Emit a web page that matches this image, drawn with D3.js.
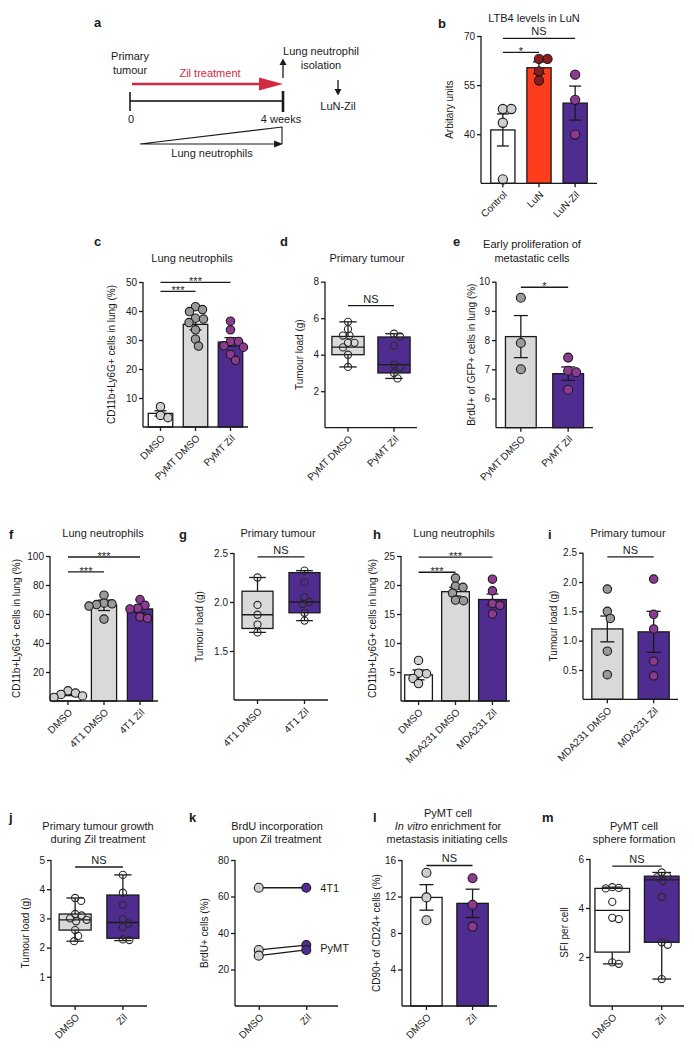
<!DOCTYPE html>
<html><head><meta charset="utf-8">
<script src="https://cdn.jsdelivr.net/npm/d3@7"></script>
<style>body{margin:0;background:#fff;}</style>
</head><body>
<script>
// ---------------- DATA ----------------
// b
const bCats = ["Control","LuN","LuN-Zil"];
const bMeans = [41.3, 60.3, 49.5];
const bSem = [4.9, 1.8, 5.2];
const bPoints = [[47.7,47.7,43.5,26.2],[63.0,63.0,59.2,56.4],[58.2,50.5,39.9]];
const bTicks = [40,55,70];
const bSig = [[0,2,69.3,"NS"],[0,1,65,"*"]];
// c
const cCats = ["DMSO","PyMT DMSO","PyMT Zil"];
const cMeans = [4.7, 35.4, 29.3];
const cSem = [0.9, 1.9, 1.5];
const cPoints = [[7.0,4.0,3.2],[41.5,40.5,39.8,37.5,37.2,36.0,33.5,30.3,27.9],[36.5,33.5,29.5,29.5,28,27.5,25,23]];
const cTicks = [10,20,30,40,50];
const cSig = [[0,2,49.9,"***"],[0,1,46.8,"***"]];
// d
const dCats = ["PyMT DMSO","PyMT Zil"];
const dBox = [[3.33,4.0,4.42,5.0,5.8],[2.7,3.0,3.46,4.97,5.15]];
const dPoints = [[5.8,5.4,5.05,5.05,4.65,4.65,4.4,4.0,3.33],[5.15,5.0,4.5,3.46,3.3,3.0,2.7]];
const dTicks = [2,4,6,8];
const dSig = [[0,1,6.69,"NS"]];
// e
const eCats = ["PyMT DMSO","PyMT Zil"];
const eMeans = [8.12, 6.85];
const eSem = [0.72, 0.23];
const ePoints = [[9.45,7.9,7.0],[7.4,6.95,6.9,6.3]];
const eTicks = [6,7,8,9,10];
const eSig = [[0,1,9.81,"*"]];
// f
const fCats = ["DMSO","4T1 DMSO","4T1 Zil"];
const fMeans = [4.6, 66.0, 63.5];
const fSem = [0.9, 3.6, 2.6];
const fPoints = [[7,5.5,4.5,3.5,2.5],[73,67.5,67,66.5,65.5,56.5],[70,66,64,63.5,58,57]];
const fTicks = [20,40,60,80,100];
const fSig = [[0,2,99.3,"***"],[0,1,89,"***"]];
// g
const gCats = ["4T1 DMSO","4T1 Zil"];
const gBox = [[1.69,1.73,1.87,2.11,2.25],[1.81,1.89,2.0,2.3,2.32]];
const gPoints = [[2.25,1.97,1.87,1.77,1.69],[2.32,2.2,2.05,2.0,1.98,1.89,1.81]];
const gTicks = [1.5,2.0,2.5];
const gSig = [[0,1,2.46,"NS"]];
// h
const hCats = ["DMSO","MDA231 DMSO","MDA231 Zil"];
const hMeans = [4.5, 18.85, 17.5];
const hSem = [0.85, 0.75, 0.95];
const hPoints = [[7.0,4.8,4.7,3.9,3.0],[21.2,19.8,19.6,18.6,17.4,17.3],[21.0,19.0,16.8,16.5,15.0]];
const hTicks = [5,10,15,20,25];
const hSig = [[0,2,24.8,"***"],[0,1,22.2,"***"]];
// i
const iCats = ["MDA231 DMSO","MDA231 Zil"];
const iMeans = [1.2, 1.15];
const iSem = [0.22, 0.35];
const iPoints = [[1.88,1.5,1.38,0.82,0.42],[2.05,1.45,1.2,0.65,0.4]];
const iTicks = [0.5,1.0,1.5,2.0,2.5];
const iSig = [[0,1,2.43,"NS"]];
// j
const jCats = ["DMSO","Zil"];
const jBox = [[2.22,2.6,2.95,3.15,3.7],[2.24,2.32,2.86,3.8,4.49]];
const jPoints = [[3.7,3.6,3.15,3.1,3.0,2.95,2.9,2.6,2.4,2.22],[4.49,3.88,3.46,2.97,2.83,2.7,2.28,2.26]];
const jTicks = [1,2,3,4,5];
const jSig = [[0,1,4.76,"NS"]];
// k
const kCats = ["DMSO","Zil"];
const kValues = [[64.8,64.8],[30.7,33.4],[27.6,30.7]];
const kLabels = [["4T1",64.8],["PyMT",32.0]];
const kTicks = [20,40,60,80];
// l
const lCats = ["DMSO","Zil"];
const lMeans = [11.9, 11.25];
const lSem = [1.4, 1.55];
const lPoints = [[14.6,11.9,9.4],[14.0,11.1,8.7]];
const lTicks = [4,8,12,16];
const lSig = [[0,1,15.4,"NS"]];
// m
const mCats = ["DMSO","Zil"];
const mBox = [[1.72,2.2,3.9,4.8,4.85],[1.1,2.6,5.15,5.3,5.45]];
const mPoints = [[4.85,4.82,4.8,4.25,3.6,3.55,1.78,1.72],[5.45,5.3,5.25,5.1,4.45,2.6,2.5,1.1]];
const mTicks = [2,4,6];
const mSig = [[0,1,5.71,"NS"]];

// ---------------- STYLE ----------------
const FONT = '"Liberation Sans", Arial, Helvetica, sans-serif';
const INK = "#1a1a1a";
const WHITE = "#ffffff", LGREY = "#d9d9d9", PURPLE = "#4f2c8f", RED = "#ff3d1c";
const PT_LIGHT = "#cfcfcf", PT_GREY = "#9a9a9a", PT_MAG = "#8c3a92", PT_DRED = "#8e1b1e";

const svg = d3.select("body").append("svg").attr("width",694).attr("height",1049)
  .style("background","#fff").style("display","block");

function txt(x,y,s,o={}){
  const t = svg.append("text").attr("x",x).attr("y",y).text(s)
    .attr("font-family",FONT).attr("font-size",o.size||11).attr("fill",o.fill||INK)
    .attr("text-anchor",o.anchor||"middle");
  if(o.weight) t.attr("font-weight",o.weight);
  return t;
}
function letter(s,x,y){ txt(x,y,s,{size:13,weight:"bold",anchor:"start"}); }
function title(lines,cx,y0,lh=13){ lines.forEach((l,i)=>txt(cx,y0+i*lh,l,{size:11})); }

function swarm(vals,y,cx,r){
  const pts = vals.map(v=>({v,y:y(v)})).sort((a,b)=>a.y-b.y);
  const placed=[]; const d2=(2*r*0.9)**2;
  pts.forEach(p=>{
    let dx=0;
    for(let k=0;k<400;k++){
      const c=(k%2?1:-1)*Math.ceil(k/2)*0.5;
      if(placed.every(q=>(q.dx-c)**2+(q.y-p.y)**2>=d2)){dx=c;break;}
    }
    p.dx=dx; placed.push(p);
  });
  return pts.map(p=>({x:cx+p.dx,y:p.y}));
}

function frame(p){
  const g = svg.append("g");
  const y = d3.scaleLinear().domain(p.domain).range([p.yBot,p.yTop]);
  let x, cx;
  if(p.point){ x = d3.scalePoint().domain(p.cats).range([p.x0,p.xr]).padding(p.po); cx=c=>x(c); }
  else { x = d3.scaleBand().domain(p.cats).range([p.x0,p.x1]).paddingInner(p.pi).paddingOuter(p.po); cx=c=>x(c)+x.bandwidth()/2; }
  return {g,x,y,cx};
}

function axes(p,x,y){
  const g = svg.append("g");
  const ya = g.append("g").attr("transform",`translate(${p.x0},0)`)
    .call(d3.axisLeft(y).tickValues(p.ticks).tickSize(4).tickPadding(2).tickFormat(p.fmt||d3.format("d")));
  ya.select(".domain").remove();
  ya.selectAll(".tick line").attr("stroke",INK).attr("stroke-width",1.3);
  ya.selectAll("text").attr("font-family",FONT).attr("font-size",10).attr("fill",INK);
  g.append("line").attr("x1",p.x0).attr("x2",p.x0).attr("y1",p.yBot).attr("y2",p.yTop).attr("stroke",INK).attr("stroke-width",1.3);
  g.append("line").attr("x1",p.x0).attr("x2",p.x1).attr("y1",p.yBot).attr("y2",p.yBot).attr("stroke",INK).attr("stroke-width",1.3);
  const xa = g.append("g").attr("transform",`translate(0,${p.yBot})`)
    .call(d3.axisBottom(x).tickSize(4).tickSizeOuter(0));
  xa.select(".domain").remove();
  xa.selectAll(".tick line").attr("stroke",INK).attr("stroke-width",1.3);
  xa.selectAll("text").attr("x",null).attr("y",null).attr("dy",null)
    .attr("text-anchor","end").attr("transform","translate(5,12) rotate(-45)")
    .attr("font-family",FONT).attr("font-size",10).attr("fill",INK);
  svg.append("text").attr("transform",`translate(${p.ylx},${(p.yBot+p.yTop)/2}) rotate(-90)`)
    .attr("text-anchor","middle").attr("font-family",FONT).attr("font-size",10).attr("fill",INK).text(p.ylabel);
}

function sig(p,cx,y){
  (p.sig||[]).forEach(([a,b,v,s])=>{
    const yy=y(v);
    svg.append("line").attr("x1",cx(p.cats[a])).attr("x2",cx(p.cats[b])).attr("y1",yy).attr("y2",yy)
      .attr("stroke",INK).attr("stroke-width",1.3);
    const mx=(cx(p.cats[a])+cx(p.cats[b]))/2;
    if(s==="NS") txt(mx,yy-3,s,{size:11});
    else txt(mx,yy+3,s,{size:11});
  });
}

function barPanel(p){
  const {g,x,y,cx}=frame(p);
  p.cats.forEach((c,i)=>{
    const m=p.means[i], s=p.sem[i], xc=cx(c);
    g.append("rect").attr("x",x(c)).attr("y",y(m)).attr("width",x.bandwidth())
      .attr("height",p.yBot-y(m)).attr("fill",p.fills[i]).attr("stroke",INK).attr("stroke-width",1.3);
    const e=g.append("g").attr("stroke",INK).attr("stroke-width",1.3);
    e.append("line").attr("x1",xc).attr("x2",xc).attr("y1",y(m-s)).attr("y2",y(m+s));
    [m-s,m+s].forEach(v=>e.append("line").attr("x1",xc-p.cap).attr("x2",xc+p.cap).attr("y1",y(v)).attr("y2",y(v)));
  });
  p.cats.forEach((c,i)=>{
    swarm(p.points[i],y,cx(c),p.r).forEach(q=>g.append("circle").attr("cx",q.x).attr("cy",q.y).attr("r",p.r)
      .attr("fill",p.ptFills[i]).attr("stroke",INK).attr("stroke-width",1.1));
  });
  axes(p,x,y); sig(p,cx,y);
}

function boxPanel(p){
  const {g,x,y,cx}=frame(p);
  p.cats.forEach((c,i)=>{
    const [mn,q1,md,q3,mx]=p.box[i], xc=cx(c), bw=x.bandwidth(), cap=bw*0.27;
    const s=g.append("g").attr("stroke",INK).attr("stroke-width",1.3);
    s.append("line").attr("x1",xc).attr("x2",xc).attr("y1",y(mn)).attr("y2",y(mx));
    s.append("rect").attr("x",x(c)).attr("y",y(q3)).attr("width",bw).attr("height",y(q1)-y(q3)).attr("fill",p.fills[i]);
    s.append("line").attr("x1",x(c)).attr("x2",x(c)+bw).attr("y1",y(md)).attr("y2",y(md));
    [mn,mx].forEach(v=>s.append("line").attr("x1",xc-cap).attr("x2",xc+cap).attr("y1",y(v)).attr("y2",y(v)));
  });
  p.cats.forEach((c,i)=>{
    swarm(p.points[i],y,cx(c),p.r).forEach(q=>g.append("circle").attr("cx",q.x).attr("cy",q.y).attr("r",p.r)
      .attr("fill","none").attr("stroke","#2a2a2a").attr("stroke-width",1.1));
  });
  axes(p,x,y); sig(p,cx,y);
}

// ---------------- PANEL a (schematic) ----------------
(function(){
  const redC="#d22b3f";
  letter("a",94,27);
  title(["Primary","tumour"],130,60,14);
  txt(210,77,"Zil treatment",{size:11,fill:redC});
  svg.append("line").attr("x1",132).attr("x2",262).attr("y1",84).attr("y2",84).attr("stroke",redC).attr("stroke-width",2.6);
  svg.append("path").attr("d","M259,77.5L283,84L259,90.5Z").attr("fill",redC);
  svg.append("line").attr("x1",130).attr("x2",283).attr("y1",101).attr("y2",101).attr("stroke","#444").attr("stroke-width",2.2);
  svg.append("line").attr("x1",130).attr("x2",130).attr("y1",92).attr("y2",111).attr("stroke",INK).attr("stroke-width",1.6);
  svg.append("line").attr("x1",283).attr("x2",283).attr("y1",91).attr("y2",112).attr("stroke",INK).attr("stroke-width",2.6);
  txt(131,123,"0",{size:11}); txt(281,123,"4 weeks",{size:11});
  svg.append("path").attr("d","M140,144L276,144M140,144L282,127L282,144").attr("fill","none").attr("stroke",INK).attr("stroke-width",1.1);
  svg.append("path").attr("d","M274,140.5L283,144L274,147.5Z").attr("fill",INK);
  txt(212,157,"Lung neutrophils",{size:11});
  svg.append("line").attr("x1",283).attr("x2",283).attr("y1",78).attr("y2",64).attr("stroke",INK).attr("stroke-width",1.3);
  svg.append("path").attr("d","M279.5,65L283,58.5L286.5,65Z").attr("fill",INK);
  title(["Lung neutrophil","isolation"],321,55,14);
  svg.append("line").attr("x1",338).attr("x2",338).attr("y1",80).attr("y2",90).attr("stroke",INK).attr("stroke-width",1.3);
  svg.append("path").attr("d","M334.5,89L338,95.5L341.5,89Z").attr("fill",INK);
  txt(338,110,"LuN-Zil",{size:11});
})();

// ---------------- PANELS ----------------
letter("b",438,28); title(["LTB4 levels in LuN"],534,22);
barPanel({cats:bCats,means:bMeans,sem:bSem,points:bPoints,ticks:bTicks,sig:bSig,
  domain:[25,70],x0:481,x1:597,yBot:183.3,yTop:36,pi:0.33,po:0.27,cap:6,r:4.6,
  fills:[WHITE,RED,PURPLE],ptFills:[PT_LIGHT,PT_DRED,PT_MAG],ylabel:"Arbitary units",ylx:453});

letter("c",94,246); title(["Lung neutrophils"],192,262);
barPanel({cats:cCats,means:cMeans,sem:cSem,points:cPoints,ticks:cTicks,sig:cSig,
  domain:[0,50],x0:143,x1:248,yBot:427,yTop:282,pi:0.3,po:0.15,cap:6,r:4.2,
  fills:[WHITE,LGREY,PURPLE],ptFills:[PT_LIGHT,PT_GREY,PT_MAG],ylabel:"CD11b+Ly6G+ cells in lung (%)",ylx:115});

letter("d",280,246); title(["Primary tumour"],367,262);
boxPanel({cats:dCats,box:dBox,points:dPoints,ticks:dTicks,sig:dSig,
  domain:[0,8],x0:325,x1:417,yBot:427.7,yTop:281.7,pi:0.3,po:0.15,r:3.6,
  fills:[LGREY,PURPLE],ylabel:"Tumour load (g)",ylx:303});

letter("e",453,246); title(["Early proliferation of","metastatic cells"],532,248,14);
barPanel({cats:eCats,means:eMeans,sem:eSem,points:ePoints,ticks:eTicks,sig:eSig,
  domain:[5,10],x0:496,x1:593,yBot:427.7,yTop:281.7,pi:0.35,po:0.2,cap:7,r:4.5,
  fills:[LGREY,PURPLE],ptFills:[PT_GREY,PT_MAG],ylabel:"BrdU+ of GFP+ cells in lung (%)",ylx:475});

letter("f",9,539); title(["Lung neutrophils"],103,537);
barPanel({cats:fCats,means:fMeans,sem:fSem,points:fPoints,ticks:fTicks,sig:fSig,
  domain:[0,100],x0:50,x1:158,yBot:701,yTop:556,pi:0.3,po:0.15,cap:6,r:4.2,
  fills:[WHITE,LGREY,PURPLE],ptFills:[PT_LIGHT,PT_GREY,PT_MAG],ylabel:"CD11b+Ly6G+ cells in lung (%)",ylx:20});

letter("g",179,539); title(["Primary tumour"],278,537);
boxPanel({cats:gCats,box:gBox,points:gPoints,ticks:gTicks,sig:gSig,fmt:d3.format(".1f"),
  domain:[1,2.5],x0:234,x1:328,yBot:700,yTop:553,pi:0.34,po:0.17,r:3.6,
  fills:[LGREY,PURPLE],ylabel:"Tumour load (g)",ylx:203});

letter("h",373,539); title(["Lung neutrophils"],454,537);
barPanel({cats:hCats,means:hMeans,sem:hSem,points:hPoints,ticks:hTicks,sig:hSig,
  domain:[0,25],x0:401,x1:510,yBot:701,yTop:556,pi:0.25,po:0.1,cap:6,r:4.2,
  fills:[WHITE,LGREY,PURPLE],ptFills:[PT_LIGHT,PT_GREY,PT_MAG],ylabel:"CD11b+Ly6G+ cells in lung (%)",ylx:376});

letter("i",548,539); title(["Primary tumour"],628,537);
barPanel({cats:iCats,means:iMeans,sem:iSem,points:iPoints,ticks:iTicks,sig:iSig,fmt:d3.format(".1f"),
  domain:[0,2.5],x0:583,x1:678,yBot:699.3,yTop:552.7,pi:0.33,po:0.19,cap:7,r:4.2,
  fills:[LGREY,PURPLE],ptFills:[PT_GREY,PT_MAG],ylabel:"Tumour load (g)",ylx:557});

letter("j",9,822); title(["Primary tumour growth","during Zil treatment"],98,830);
boxPanel({cats:jCats,box:jBox,points:jPoints,ticks:jTicks,sig:jSig,
  domain:[0,5],x0:51,x1:147,yBot:1006,yTop:860,pi:0.33,po:0.17,r:3.6,
  fills:[LGREY,PURPLE],ylabel:"Tumour load (g)",ylx:29});

letter("k",189,822); title(["BrdU incorporation","upon Zil treatment"],277,830);
(function(){
  const p={cats:kCats,ticks:kTicks,domain:[0,80],x0:235,x1:338,xr:330,point:true,po:0.5,
    yBot:1006,yTop:860,ylabel:"BrdU+ cells (%)",ylx:208};
  const {g,x,y}=frame(p);
  kValues.forEach(v=>{
    g.append("line").attr("x1",x(kCats[0])).attr("x2",x(kCats[1])).attr("y1",y(v[0])).attr("y2",y(v[1]))
      .attr("stroke",INK).attr("stroke-width",1.3);
  });
  kValues.forEach(v=>{
    v.forEach((val,j)=>g.append("circle").attr("cx",x(kCats[j])).attr("cy",y(val)).attr("r",4.5)
      .attr("fill",j?PURPLE:PT_LIGHT).attr("stroke",INK).attr("stroke-width",1.1));
  });
  kLabels.forEach(([s,v])=>txt(x(kCats[1])+14,y(v)+4,s,{size:11,anchor:"start"}));
  axes(p,x,y);
})();

letter("l",373,822);
(function(){
  txt(448,817,"PyMT cell",{size:11});
  const t=txt(448,830,"",{size:11});
  t.append("tspan").attr("font-style","italic").text("In vitro");
  t.append("tspan").text(" enrichment for");
  txt(447,843,"metastasis initiating cells",{size:11});
})();
barPanel({cats:lCats,means:lMeans,sem:lSem,points:lPoints,ticks:lTicks,sig:lSig,
  domain:[0,16],x0:402,x1:497,yBot:1006,yTop:860,pi:0.32,po:0.19,cap:7,r:4.5,
  fills:[WHITE,PURPLE],ptFills:[PT_LIGHT,PT_MAG],ylabel:"CD90+ of CD24+ cells (%)",ylx:380});

letter("m",542,822); title(["PyMT cell","sphere formation"],634,830);
boxPanel({cats:mCats,box:mBox,points:mPoints,ticks:mTicks,sig:mSig,
  domain:[0,6],x0:590,x1:684,yBot:1006,yTop:859,pi:0.3,po:0.1,r:3.6,
  fills:[WHITE,PURPLE],ylabel:"SFI per cell",ylx:568});
</script>
</body></html>
